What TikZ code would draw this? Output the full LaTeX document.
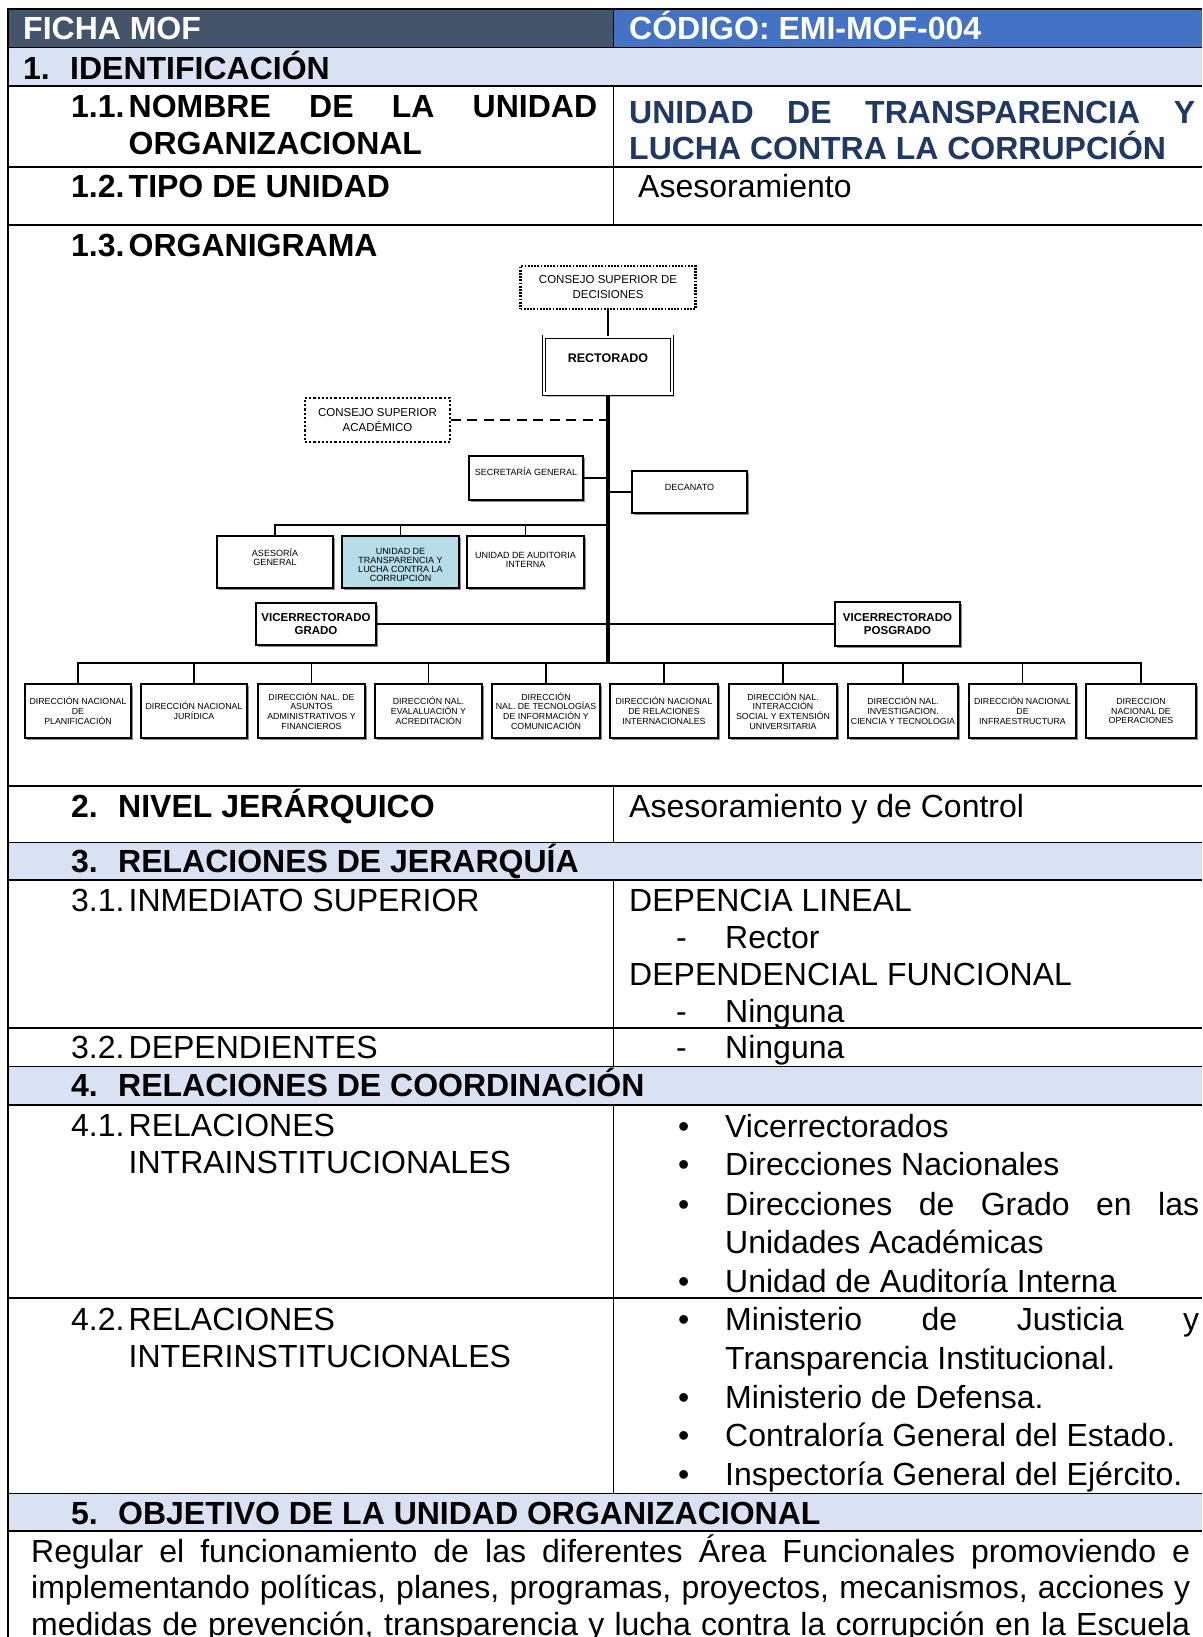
\documentclass[tikz,border=0pt]{standalone}
\usepackage{fontspec}
\setmainfont{Liberation Sans}
\usetikzlibrary{shadows}
\definecolor{hdrslate}{HTML}{44546A}
\definecolor{hdrblue}{HTML}{4472C4}
\definecolor{rowblue}{HTML}{D9E2F3}
\definecolor{navy}{HTML}{1F3864}
\definecolor{cyanfill}{HTML}{B7DEE8}
\tikzset{
  tb/.style={font=\fontsize{32}{37}\selectfont\bfseries, anchor=base west, inner sep=0pt},
  tr/.style={font=\fontsize{32}{37}\selectfont, anchor=base west, inner sep=0pt},
  thick line/.style={line width=2.4pt},
  thin line/.style={line width=1pt},
  obox/.style={draw, line width=1.1pt, fill=white, inner sep=0pt,
    drop shadow={shadow xshift=1.6pt, shadow yshift=-1.6pt, fill=black!45, opacity=1}},
  otext/.style={font=\fontsize{9}{9.5}\selectfont, align=center, inner sep=0pt},
  btext/.style={font=\fontsize{8.8}{9.8}\selectfont, align=center, inner sep=0pt},
  vtext/.style={font=\fontsize{11.5}{12.5}\selectfont\bfseries, align=center, inner sep=0pt},
  ctext/.style={font=\fontsize{11.5}{15}\selectfont, align=center, inner sep=0pt},
  conn/.style={line width=1.3pt},
  drop/.style={line width=1.8pt},
  bar/.style={line width=2.6pt},
}
\begin{document}
\begin{tikzpicture}[x=1pt,y=-1pt]
\useasboundingbox (0,0) rectangle (1202,1637);
\fill[white] (0,0) rectangle (1202,1637);
% ---------- fills
\fill[hdrslate] (8,9.5) rectangle (613,48);
\fill[hdrblue] (613,9.5) rectangle (1202,48);
\fill[rowblue] (8,48) rectangle (1202,86);
\fill[rowblue] (8,842) rectangle (1202,880);
\fill[rowblue] (8,1066) rectangle (1202,1105);
\fill[rowblue] (8,1493) rectangle (1202,1531);
% ---------- table rules
\draw[line width=2pt] (8,9.5) -- (1202,9.5);
\draw[thin line] (8,48) -- (1202,48);
\draw[thick line] (8,86) -- (1202,86);
\draw[thick line] (8,167) -- (1202,167);
\draw[thick line] (8,225) -- (1202,225);
\draw[thick line] (8,786) -- (1202,786);
\draw[thin line] (8,842) -- (1202,842);
\draw[thick line] (8,880) -- (1202,880);
\draw[thick line] (8,1028) -- (1202,1028);
\draw[thin line] (8,1066) -- (1202,1066);
\draw[thick line] (8,1105) -- (1202,1105);
\draw[thick line] (8,1298) -- (1202,1298);
\draw[thin line] (8,1493) -- (1202,1493);
\draw[thick line] (8,1531) -- (1202,1531);
\draw[line width=2pt] (8,8.5) -- (8,1637);
\draw[thin line] (613,9.5) -- (613,48);
\draw[thin line] (613,86) -- (613,225);
\draw[thin line] (613,786) -- (613,842);
\draw[thin line] (613,880) -- (613,1066);
\draw[thin line] (613,1105) -- (613,1493);
% ---------- header texts
\node[tb, text=white] (h1) at (23,40) {FICHA MOF};
\node[tb, text=white] (h2) at (629,40) {CÓDIGO: EMI-MOF-004};
\node[tb] (s1n) at (23,80) {1.};
\node[tb] (s1) at (70,80) {IDENTIFICACIÓN};
\node[tb] (s11n) at (71,118) {1.1.};
\node[tb] (s11a) at (128.5,118) {\makebox[468.5pt][s]{NOMBRE DE LA UNIDAD}};
\node[tb] (s11b) at (128.5,155) {ORGANIZACIONAL};
\node[tb, text=navy] (v11a) at (629,124) {\makebox[566pt][s]{UNIDAD DE TRANSPARENCIA Y}};
\node[tb, text=navy] (v11b) at (629,160) {LUCHA CONTRA LA CORRUPCIÓN};
\node[tb] (s12n) at (71,198) {1.2.};
\node[tb] (s12) at (128.5,198) {TIPO DE UNIDAD};
\node[tr] (v12) at (638,198) {Asesoramiento};
\node[tb] (s13n) at (71,256) {1.3.};
\node[tb] (s13) at (128.5,256) {ORGANIGRAMA};
% ---------- section 2-5
\node[tb] (s2n) at (71,817) {2.};
\node[tb] (s2) at (118,817) {NIVEL JERÁRQUICO};
\node[tr] (v2) at (629,817) {Asesoramiento y de Control};
\node[tb] (s3n) at (71,872) {3.};
\node[tb] (s3) at (118,872) {RELACIONES DE JERARQUÍA};
\node[tr] (s31n) at (71,911) {3.1.};
\node[tr] (s31) at (128.5,911) {INMEDIATO SUPERIOR};
\node[tr] (v31a) at (629,911) {DEPENCIA LINEAL};
\node[tr] (v31bd) at (676,948) {-};
\node[tr] (v31b) at (725,948) {Rector};
\node[tr] (v31c) at (629,985) {DEPENDENCIAL FUNCIONAL};
\node[tr] (v31dd) at (676,1022) {-};
\node[tr] (v31d) at (725,1022) {Ninguna};
\node[tr] (s32n) at (71,1058) {3.2.};
\node[tr] (s32) at (128.5,1058) {DEPENDIENTES};
\node[tr] (v32d) at (676,1058) {-};
\node[tr] (v32) at (725,1058) {Ninguna};
\node[tb] (s4n) at (71,1096) {4.};
\node[tb] (s4) at (118,1096) {RELACIONES DE COORDINACIÓN};
\node[tr] (s41n) at (71,1136) {4.1.};
\node[tr] (s41a) at (128.5,1136) {RELACIONES};
\node[tr] (s41b) at (128.5,1173) {INTRAINSTITUCIONALES};
\node[tr] (b41a) at (678,1137) {•};
\node[tr] (v41a) at (725,1137) {Vicerrectorados};
\node[tr] (b41b) at (678,1175) {•};
\node[tr] (v41b) at (725,1175) {Direcciones Nacionales};
\node[tr] (b41c) at (678,1215) {•};
\node[tr] (v41c) at (725,1215) {\makebox[474pt][s]{Direcciones de Grado en las}};
\node[tr] (v41d) at (725,1253) {Unidades Académicas};
\node[tr] (b41e) at (678,1292) {•};
\node[tr] (v41e) at (725,1292) {Unidad de Auditoría Interna};
\node[tr] (s42n) at (71,1330) {4.2.};
\node[tr] (s42a) at (128.5,1330) {RELACIONES};
\node[tr] (s42b) at (128.5,1367) {INTERINSTITUCIONALES};
\node[tr] (b42a) at (678,1330) {•};
\node[tr] (v42a) at (725,1330) {\makebox[474pt][s]{Ministerio de Justicia y}};
\node[tr] (v42b) at (725,1369) {Transparencia Institucional.};
\node[tr] (b42c) at (678,1408) {•};
\node[tr] (v42c) at (725,1408) {Ministerio de Defensa.};
\node[tr] (b42d) at (678,1446) {•};
\node[tr] (v42d) at (725,1446) {Contraloría General del Estado.};
\node[tr] (b42e) at (678,1485) {•};
\node[tr] (v42e) at (725,1485) {Inspectoría General del Ejército.};
\node[tb] (s5n) at (71,1524) {5.};
\node[tb] (s5) at (118,1524) {OBJETIVO DE LA UNIDAD ORGANIZACIONAL};
\node[tr] (p1) at (31,1562) {\makebox[1159pt][s]{Regular el funcionamiento de las diferentes Área Funcionales promoviendo e}};
\node[tr] (p2) at (31,1598) {\makebox[1159pt][s]{implementando políticas, planes, programas, proyectos, mecanismos, acciones y}};
\node[tr] (p3) at (31,1635) {\makebox[1159pt][s]{medidas de prevención, transparencia y lucha contra la corrupción en la Escuela}};
% ---------- organigrama boxes
\node[draw, line width=2.6pt, dash pattern=on 1.8pt off 1.4pt, fill=white, minimum width=175pt, minimum height=43pt, ctext] (dec) at (608,287.5) {CONSEJO SUPERIOR DE\\DECISIONES};
\node[draw, double, double distance=2.2pt, line width=0.9pt, fill=white, inner sep=0pt,
  drop shadow={shadow xshift=2pt, shadow yshift=-3pt, fill=black!25, opacity=1},
  minimum width=128pt, minimum height=57pt] (rect) at (608,365) {};
\node[font=\fontsize{12.5}{14}\selectfont\bfseries, inner sep=0pt] (rect-t) at (608,358) {RECTORADO};
\node[draw, line width=1.8pt, dash pattern=on 2.2pt off 2pt, fill=white, minimum width=145pt, minimum height=44pt, ctext] (aca) at (377.5,420) {CONSEJO SUPERIOR\\ACADÉMICO};
\node[obox, minimum width=114pt, minimum height=44pt] (sg) at (526,478) {};
\node[otext] (sg-t) at (526,471.5) {SECRETARÍA GENERAL};
\node[obox, minimum width=115pt, minimum height=42pt] (dn) at (689.5,492) {};
\node[otext] (dn-t) at (689.5,487.5) {DECANATO};
\node[obox, minimum width=116pt, minimum height=52pt] (ases) at (275,562) {};
\node[otext] (ases-t) at (275,557) {ASESORÍA\\GENERAL};
\node[obox, fill=cyanfill, minimum width=117pt, minimum height=52pt] (ut) at (400.5,562) {};
\node[otext, font=\fontsize{9}{8.9}\selectfont] (ut-t) at (400.5,565) {UNIDAD DE\\TRANSPARENCIA Y\\LUCHA CONTRA LA\\CORRUPCIÓN};
\node[obox, minimum width=117pt, minimum height=52pt] (au) at (525.5,562) {};
\node[otext] (au-t) at (525.5,560) {UNIDAD DE AUDITORIA\\INTERNA};
\node[obox, minimum width=120pt, minimum height=42pt, vtext] (vg) at (316,624) {VICERRECTORADO\\GRADO};
\node[obox, minimum width=125pt, minimum height=44pt, vtext] (vp) at (897.5,624) {VICERRECTORADO\\POSGRADO};
\node[obox, minimum width=106pt, minimum height=54pt, btext] (b1) at (78,711) {DIRECCIÓN NACIONAL\\DE\\PLANIFICACIÓN};
\node[obox, minimum width=106pt, minimum height=54pt, btext] (b2) at (194,711) {DIRECCIÓN NACIONAL\\JURÍDICA};
\node[obox, minimum width=107pt, minimum height=54pt, btext] (b3) at (311.5,711) {DIRECCIÓN NAL. DE\\ASUNTOS\\ADMINISTRATIVOS Y\\FINANCIEROS};
\node[obox, minimum width=107pt, minimum height=54pt, btext] (b4) at (428.5,711) {DIRECCIÓN NAL.\\EVALALUACIÓN Y\\ACREDITACIÓN};
\node[obox, minimum width=108pt, minimum height=54pt, btext] (b5) at (546,711) {DIRECCIÓN\\NAL. DE TECNOLOGÍAS\\DE INFORMACIÓN Y\\COMUNICACIÓN};
\node[obox, minimum width=108pt, minimum height=54pt, btext] (b6) at (664,711) {DIRECCIÓN NACIONAL\\DE RELACIONES\\INTERNACIONALES};
\node[obox, minimum width=108pt, minimum height=54pt, btext] (b7) at (783,711) {DIRECCIÓN NAL.\\INTERACCIÓN\\SOCIAL Y EXTENSIÓN\\UNIVERSITARIA};
\node[obox, minimum width=110pt, minimum height=54pt, btext] (b8) at (903,711) {DIRECCIÓN NAL.\\INVESTIGACION.\\CIENCIA Y TECNOLOGIA};
\node[obox, minimum width=107pt, minimum height=54pt, btext] (b9) at (1022.5,711) {DIRECCIÓN NACIONAL\\DE\\INFRAESTRUCTURA};
\node[obox, minimum width=110pt, minimum height=54pt, btext] (b10) at (1141,711) {DIRECCION\\NACIONAL DE\\OPERACIONES};
% ---------- junction coordinates
\coordinate (tca) at (608,420);
\coordinate (tsg) at (608,478);
\coordinate (tdn) at (608,492);
\coordinate (tmid) at (608,525);
\coordinate (tbot) at (608,663);
% ---------- connectors
\draw[conn] (dec.south) -- (rect.north);
\draw[line width=4pt] ([yshift=-1pt]rect.south) -- (tbot);
\draw[line width=1.3pt, dash pattern=on 10pt off 6.5pt] (aca.east) -- (tca);
\draw[line width=2pt] (sg.east) -- (tsg);
\draw[conn] (tdn) -- (dn.west);
\draw[bar] (tmid) -| (ases.north);
\draw[drop] (tmid) -| (ut.north);
\draw[drop] (tmid) -| (au.north);
\draw[conn] (vg.east) -- (vp.west);
\foreach \b in {b1,b2,b3,b4,b5,b6,b7,b8,b9,b10}{
  \draw[drop] (tbot) -| (\b.north);
}
\draw[bar] (b1.north |- tbot) -- (b10.north |- tbot);
\end{tikzpicture}
\end{document}
